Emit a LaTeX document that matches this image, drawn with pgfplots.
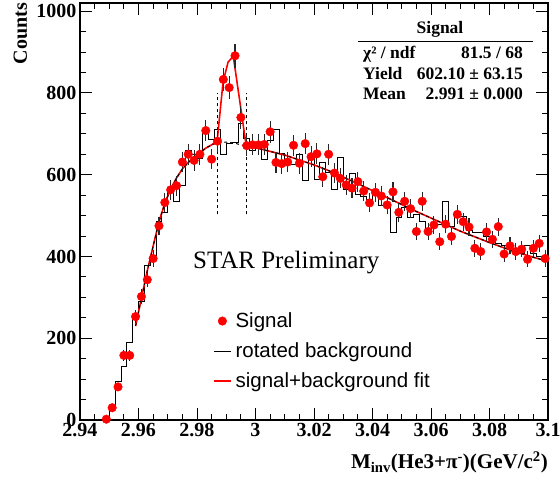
\documentclass[border=0pt]{standalone}
\usepackage{fontspec}
\setmainfont{Liberation Serif}
\setsansfont{Liberation Sans}
\usepackage{pgfplots}
\pgfplotsset{compat=1.18}
\usepackage{pgfplotstable}

% Signal points (bin centre, counts)
\pgfplotstableread{
x y
2.949 2
2.951 30
2.953 81
2.955 158
2.957 158
2.959 253
2.961 302
2.963 343
2.965 395
2.967 475
2.969 532
2.971 563
2.973 573
2.975 631
2.977 650
2.979 635
2.981 650
2.983 708
2.985 638
2.987 682
2.989 833
2.991 813
2.993 891
2.995 740
2.997 671
2.999 673
3.001 673
3.003 674
3.005 705
3.007 630
3.009 627
3.011 631
3.013 672
3.015 628
3.017 676
3.019 644
3.021 651
3.023 595
3.025 650
3.027 604
3.029 591
3.031 575
3.033 567
3.035 583
3.037 560
3.039 531
3.041 557
3.043 548
3.045 526
3.047 558
3.049 508
3.051 535
3.053 517
3.055 461
3.057 535
3.059 461
3.061 477
3.063 436
3.065 479
3.067 449
3.069 503
3.071 485
3.073 472
3.075 420
3.077 412
3.079 460
3.081 442
3.083 473
3.085 406
3.087 426
3.089 412
3.091 418
3.093 393
3.095 420
3.097 432
3.099 395
}\sigdata

% Rotated background histogram (left bin edge, counts)
\pgfplotstableread{
x y
2.940 0
2.950 34
2.952 94
2.954 130
2.956 189
2.958 246
2.960 289
2.962 379
2.964 403
2.966 485
2.968 507
2.970 569
2.972 534
2.974 574
2.976 660
2.978 650
2.980 640
2.982 700
2.984 687
2.986 711
2.988 650
2.990 676
2.992 678
2.994 726
2.996 690
2.998 659
3.000 668
3.002 638
3.004 683
3.006 711
3.008 652
3.010 624
3.012 624
3.014 650
3.016 587
3.018 640
3.020 589
3.022 630
3.024 606
3.026 565
3.028 642
3.030 565
3.032 603
3.034 552
3.036 547
3.038 540
3.040 558
3.042 524
3.044 524
3.046 459
3.048 495
3.050 520
3.052 495
3.054 504
3.056 487
3.058 460
3.060 471
3.062 479
3.064 534
3.066 473
3.068 498
3.070 498
3.072 463
3.074 459
3.076 459
3.078 450
3.080 442
3.082 432
3.084 428
3.086 420
3.088 414
3.090 408
3.092 426
3.094 408
3.096 400
3.098 400
3.100 400
}\bkgrot

% signal + background fit
\pgfplotstableread{
x y
2.9590 230
2.9610 298
2.9630 365
2.9650 425
2.9670 485
2.9690 530
2.9710 565
2.9730 592
2.9750 614
2.9770 630
2.9790 642
2.9810 654
2.9830 665
2.9850 673
2.9869 683
2.9889 826
2.9906 875
2.9924 890
2.9968 672
3.0000 666
3.0050 657
3.0100 648
3.0150 636
3.0200 624
3.0250 610
3.0300 594
3.0350 578
3.0400 561
3.0450 544
3.0500 527
3.0550 510
3.0600 494
3.0650 478
3.0700 462
3.0750 448
3.0800 434
3.0850 421
3.0900 409
3.0950 398
3.1000 388
}\fitdata

% background part of the fit
\pgfplotstableread{
x y
2.9590 230
2.9610 298
2.9630 365
2.9650 425
2.9670 485
2.9690 530
2.9710 565
2.9730 592
2.9750 614
2.9770 630
2.9790 642
2.9810 654
2.9830 665
2.9850 673
2.9870 678
2.9890 680
2.9910 679
2.9930 677
2.9950 673
2.9970 670
3.0000 666
3.0050 657
3.0100 648
3.0150 636
3.0200 624
3.0250 610
3.0300 594
3.0350 578
3.0400 561
3.0450 544
3.0500 527
3.0550 510
3.0600 494
3.0650 478
3.0700 462
3.0750 448
3.0800 434
3.0850 421
3.0900 409
3.0950 398
3.1000 388
}\bkgfit

\begin{document}
\begin{tikzpicture}
\begin{axis}[
  at={(0,0)}, anchor=south west,
  scale only axis, width=468pt, height=417pt,
  xmin=2.94, xmax=3.1, ymin=0, ymax=1020,
  xtick={2.94,2.96,2.98,3.0,3.02,3.04,3.06,3.08,3.1},
  xticklabels={2.94,2.96,2.98,3,3.02,3.04,3.06,3.08,3.1},
  minor x tick num=3,
  ytick={0,200,400,600,800,1000},
  yticklabels={0,200,400,600,800,1000},
  minor y tick num=3,
  tick align=inside, tick pos=both,
  major tick length=12pt, minor tick length=6pt,
  every tick/.style={black, line width=0.9pt},
  axis line style={line width=1.6pt},
  ticklabel style={font=\bfseries\fontsize{20}{20}\selectfont},
  /pgf/number format/assume math mode=true,
  legend style={at={(axis cs:2.98547,265)}, anchor=north west, draw=none, fill=none,
    inner sep=0pt, font=\sffamily\fontsize{20.5}{24}\selectfont,
    row sep=11.7pt, column sep=3pt, nodes={inner sep=1pt}},
  legend cell align=left,
]
\addplot[forget plot, const plot, black, line width=0.8pt] table[x=x,y=y] {\bkgrot};
\addplot[forget plot, black, line width=1.3pt, dash pattern=on 3pt off 3pt] coordinates {(2.987,503) (2.987,800)};
\addplot[forget plot, black, line width=1.3pt, dash pattern=on 3pt off 3pt] coordinates {(2.997,503) (2.997,800)};
\addplot[forget plot, red, line width=1.6pt] table[x=x,y=y] {\fitdata};
\addplot[forget plot, black, line width=1pt, dash pattern=on 3pt off 3pt] table[x=x,y=y] {\bkgfit};
\addplot[forget plot, only marks, mark=*, mark size=4.3pt, red, mark options={fill=red, draw=red},
  error bars/.cd, y dir=both, y explicit, error mark=none,
  error bar style={black!85, line width=1.1pt}]
  table[x=x, y=y, y error expr={sqrt(\thisrow{y})}] {\sigdata};
\addlegendimage{only marks, mark=*, mark size=4.3pt, red}
\addlegendentry{Signal}
\addlegendimage{black, line width=0.9pt}
\addlegendentry{rotated background}
\addlegendimage{red, line width=1.3pt}
\addlegendentry{signal+background fit}
\end{axis}
% STAR Preliminary
\node[anchor=base west, inner sep=0pt, font=\fontsize{25}{25}\selectfont] at (113pt,151.7pt) {STAR Preliminary};
% stats box
\begin{scope}[every node/.style={inner sep=0pt, font=\bfseries\fontsize{17.5}{17.5}\selectfont}]
\node[anchor=base] at (360pt,386pt) {Signal};
\draw[line width=0.8pt] (278pt,378.3pt) -- (453pt,378.3pt);
\node[anchor=base west] at (283pt,361pt) {χ² / ndf};
\node[anchor=base east] at (443pt,361pt) {81.5 / 68};
\node[anchor=base west] at (283pt,340pt) {Yield};
\node[anchor=base east] at (443pt,340pt) {602.10 ± 63.15};
\node[anchor=base west] at (283pt,320pt) {Mean};
\node[anchor=base east] at (443pt,320pt) {2.991 ± 0.000};
\end{scope}
% axis titles
\node[anchor=base east, inner sep=0pt, font=\bfseries\fontsize{21}{21}\selectfont] at (468pt,-49pt) {M\textsubscript{inv}(He3+π\textsuperscript{-})(GeV/c\textsuperscript{2})};
\node[rotate=90, anchor=east, inner sep=0pt, font=\bfseries\fontsize{20}{20}\selectfont] at (-59.5pt,417pt) {Counts};
\pgfresetboundingbox
\path[use as bounding box] (-80pt,-59pt) rectangle (480pt,420pt);
\end{tikzpicture}
\end{document}
